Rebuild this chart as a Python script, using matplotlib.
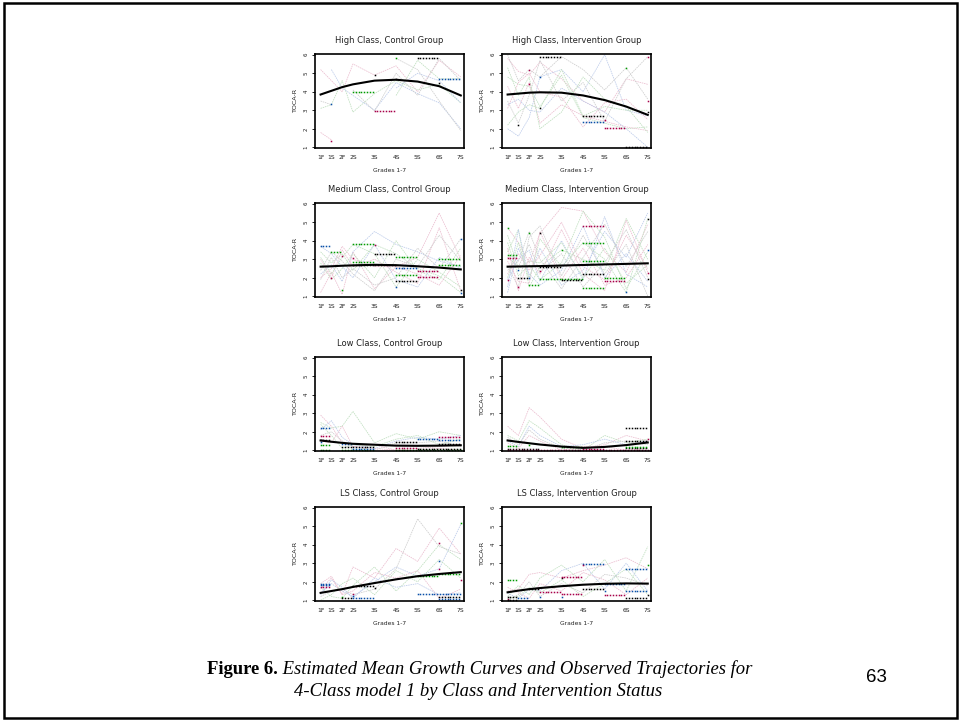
import numpy as np
import matplotlib
matplotlib.use("Agg")
import matplotlib.pyplot as plt
from matplotlib.patches import Rectangle

# grade labels and their positions on the time axis
GRADES = ["1F", "1S", "2F", "2S", "3S", "4S", "5S", "6S", "7S"]
GRADE_POS = [1.0, 1.5, 2.0, 2.5, 3.5, 4.5, 5.5, 6.5, 7.5]

TITLES = [
    "High Class, Control Group", "High Class, Intervention Group",
    "Medium Class, Control Group", "Medium Class, Intervention Group",
    "Low Class, Control Group", "Low Class, Intervention Group",
    "LS Class, Control Group", "LS Class, Intervention Group",
]

# estimated mean growth curves
HC_MEAN = [3.85, 4.05, 4.25, 4.4, 4.6, 4.65, 4.55, 4.3, 3.8]
HI_MEAN = [3.85, 3.9, 3.95, 3.97, 3.95, 3.8, 3.55, 3.2, 2.75]
MC_MEAN = [2.6, 2.62, 2.65, 2.67, 2.7, 2.68, 2.62, 2.55, 2.45]
MI_MEAN = [2.6, 2.61, 2.62, 2.63, 2.66, 2.69, 2.72, 2.75, 2.78]
LC_MEAN = [1.53, 1.46, 1.4, 1.35, 1.3, 1.25, 1.24, 1.25, 1.27]
LI_MEAN = [1.53, 1.45, 1.38, 1.31, 1.2, 1.13, 1.18, 1.28, 1.42]
SC_MEAN = [1.4, 1.5, 1.6, 1.72, 1.93, 2.13, 2.3, 2.42, 2.52]
SI_MEAN = [1.43, 1.52, 1.6, 1.66, 1.76, 1.84, 1.89, 1.91, 1.9]

# observed trajectories (None = not observed)
HC_TRAJ = [
    [5.2, 4.6, 4.0, 5.5, 4.9, 5.4, 4.0, 5.7, 4.8],
    [3.1, 3.3, 4.6, 2.9, 3.9, 4.6, 4.1, 4.4, 3.4],
    [None, 5.2, 4.2, 3.8, 3.0, 4.5, 3.9, 3.4, 2.0],
    [None, None, None, None, None, 5.8, 5.2, 3.5, 1.9],
    [1.8, 1.4, None, None, None, None, None, None, None],
    [None, None, None, None, None, 3.8, 5.7, 4.7, 4.7],
    [None, None, None, None, None, 4.2, 5.0, 4.6, 3.4],
    [3.5, 3.3, None, 4.1, 2.95, 5.0, 3.8, 5.8, 4.6],
]
HI_TRAJ = [
    [5.8, 5.1, 4.9, 5.6, 4.7, 3.5, 2.9, 4.7, 4.4],
    [4.8, 4.4, 4.3, 3.2, 4.9, 2.6, 2.3, 2.0, 2.1],
    [2.0, 1.6, 2.6, 4.8, 5.2, 4.0, 6.0, 3.0, 2.7],
    [3.5, 2.3, 3.8, 5.7, 3.5, 4.5, 2.4, 4.7, 5.9],
    [4.3, 3.1, 4.5, 2.3, 3.3, 2.7, 2.4, 2.1, 1.9],
    [2.2, 2.9, 3.3, 3.1, 5.2, 2.7, 3.2, 3.0, 3.0],
    [3.3, 3.6, 3.0, 2.9, 4.2, 3.5, 2.9, 2.0, 1.0],
    [6.0, 4.6, 5.2, 4.8, 5.9, 5.2, 4.1, 5.3, 3.6],
    [3.1, 4.5, 5.0, 4.0, 3.7, 2.1, 3.4, 3.6, 2.5],
    [5.3, 3.8, 4.8, 2.0, 2.9, 4.8, 3.6, 3.2, 1.8],
]
MC_TRAJ = [
    [1.2, 2.3, 1.1, 3.4, 1.4, 2.6, 3.1, 5.5, 3.0],
    [3.4, 2.8, 3.3, 2.4, 3.8, 3.3, 2.5, 2.1, 1.2],
    [2.2, 2.7, 1.8, 3.4, 4.5, 3.8, 3.4, 2.9, 2.6],
    [1.9, 3.1, 2.0, 2.5, 1.6, 2.0, 3.6, 2.5, 4.1],
    [3.0, 2.0, 3.5, 2.6, 3.0, 2.3, 1.7, 4.7, 1.3],
    [2.8, 1.9, 2.5, 3.3, 2.0, 4.0, 2.4, 1.9, 3.6],
    [3.7, 3.3, 2.6, 2.0, 3.8, 1.9, 1.5, 3.1, 2.5],
    [2.4, 3.4, 2.9, 2.2, 1.3, 3.0, 2.6, 4.3, 2.9],
    [2.0, 2.5, 3.7, 3.0, 2.6, 2.6, 2.2, 1.6, 3.2],
    [3.1, 2.2, 3.1, 3.8, 3.3, 1.5, 3.0, 2.3, 1.5],
]
MI_TRAJ = [
    [4.7, 3.9, 2.8, 4.4, 5.8, 5.6, 3.4, 2.3, 4.9],
    [3.4, 4.6, 1.5, 2.6, 3.5, 3.0, 2.4, 5.2, 3.0],
    [1.9, 3.0, 3.5, 1.8, 4.0, 1.9, 5.3, 2.2, 1.5],
    [2.6, 1.5, 4.2, 4.8, 2.1, 4.3, 2.2, 3.8, 1.0],
    [2.2, 3.3, 2.4, 3.2, 5.0, 2.6, 1.9, 4.3, 2.5],
    [3.9, 2.1, 2.7, 1.9, 2.8, 5.6, 4.2, 1.4, 3.4],
    [1.5, 4.6, 2.0, 3.6, 1.6, 2.4, 4.5, 3.1, 5.5],
    [3.1, 2.6, 3.8, 2.3, 3.3, 1.5, 2.8, 4.6, 2.0],
    [2.9, 1.8, 1.7, 4.5, 1.9, 3.6, 1.6, 2.0, 3.8],
    [4.3, 2.5, 2.9, 2.8, 3.9, 2.0, 3.6, 1.7, 2.7],
    [1.2, 3.6, 2.2, 1.6, 2.4, 4.8, 2.0, 3.3, 1.8],
    [2.4, 2.9, 4.5, 3.0, 1.4, 3.1, 4.9, 2.6, 4.5],
    [3.6, 1.3, 3.1, 2.2, 4.6, 2.2, 1.3, 5.1, 2.3],
    [2.0, 3.9, 1.9, 4.1, 2.6, 3.9, 3.0, 1.2, 5.2],
]
LC_TRAJ = [
    [2.9, 2.3, 1.4, 1.2, 1.1, 1.0, 1.1, 1.2, 1.3],
    [2.5, 2.2, 2.3, 3.1, 1.4, 1.9, 1.6, 2.0, 1.8],
    [2.1, 2.6, 1.7, 1.3, 1.1, 1.5, 1.7, 1.6, 1.8],
    [1.8, 2.0, 1.5, 1.2, 1.0, 1.4, 1.4, 1.5, 1.2],
    [1.5, 1.4, 2.3, 1.2, 1.3, 1.0, 1.0, 1.1, 1.0],
    [2.4, 1.8, 1.1, 1.3, 1.2, 1.6, 1.8, 1.3, 1.6],
]
LI_TRAJ = [
    [2.3, 1.8, 3.3, 2.8, 1.6, 1.1, 1.3, 1.8, 1.5],
    [1.8, 1.5, 2.6, 2.2, 1.3, 1.0, 1.8, 1.4, 1.6],
    [1.5, 1.2, 2.3, 1.8, 1.2, 1.3, 1.6, 1.3, 1.5],
    [1.7, 1.3, 2.1, 1.6, 1.1, 1.0, 1.4, 1.5, 1.3],
    [1.4, 1.1, 1.8, 1.5, 1.0, 1.2, 1.2, 1.0, 1.1],
]
SC_TRAJ = [
    [1.9, 2.3, 1.3, 2.8, 2.2, 3.8, 3.1, 4.9, 3.5],
    [1.7, 1.2, 1.1, 1.8, 2.8, 1.5, 2.6, 4.0, 3.2],
    [1.4, 1.9, 1.5, 1.2, 2.0, 2.8, 2.3, 2.7, 5.1],
    [1.2, 1.5, 1.6, 1.3, 1.6, 2.7, 5.4, 3.9, 3.5],
    [1.6, 2.2, 1.3, 1.5, 2.5, 2.2, 2.6, 1.1, 1.6],
    [1.0, 1.3, 1.9, 2.2, 1.3, 2.6, 2.0, 3.2, 2.2],
    [1.3, 2.1, 1.7, 1.1, 2.2, 1.7, 1.9, 1.3, 1.4],
]
SI_TRAJ = [
    [1.5, 1.6, 2.4, 2.5, 2.2, 2.6, 2.9, 3.3, 2.7],
    [1.2, 1.8, 1.3, 2.2, 2.9, 2.0, 3.2, 1.5, 3.9],
    [1.4, 1.1, 1.6, 1.5, 2.6, 3.0, 1.6, 3.0, 1.5],
    [1.0, 1.3, 2.0, 1.2, 1.9, 1.4, 2.4, 2.2, 1.8],
    [1.7, 1.4, 1.1, 1.9, 1.5, 2.5, 2.1, 1.3, 2.2],
    [1.1, 1.2, 1.7, 1.4, 2.1, 1.2, 1.9, 2.7, 1.3],
]

# individuals with constant observed scores: (from, to, score, series)
HC_FLAT = [("5S", "6S", 5.8, "k"), ("6S", "7S", 4.7, "b"), ("2S", "3S", 3.97, "g"),
           ("3S", "4S", 2.95, "m"), ("3S", "3S", 4.9, "k"), ("4S", "4S", 4.7, "k"),
           ("1S", "1S", 3.35, "b"), ("1S", "1S", 1.35, "m"), ("4S", "4S", 5.85, "g"),
           ("6S", "6S", 4.45, "k")]
HI_FLAT = [("2S", "3S", 5.9, "k"), ("2S", "2S", 4.8, "b"), ("2F", "2F", 4.4, "m"),
           ("2F", "2F", 5.15, "m"), ("4S", "5S", 2.7, "k"), ("4S", "5S", 2.35, "b"),
           ("5S", "6S", 2.05, "m"), ("6S", "7S", 1.0, "k"), ("6S", "6S", 5.3, "g"),
           ("7S", "7S", 5.9, "m"), ("7S", "7S", 2.9, "k"), ("7S", "7S", 3.5, "m"),
           ("1S", "1S", 2.2, "k"), ("2S", "2S", 3.1, "k"), ("5S", "5S", 2.45, "m")]
MC_FLAT = [("1F", "1S", 3.7, "b"), ("1S", "1S", 2.0, "m"), ("1S", "2F", 3.4, "g"),
           ("2F", "2F", 1.35, "g"), ("2F", "2F", 3.2, "m"), ("2S", "2S", 3.05, "m"),
           ("2S", "3S", 3.8, "g"), ("2S", "3S", 2.85, "g"), ("2S", "4S", 2.7, "k"),
           ("3S", "3S", 3.75, "m"), ("3S", "4S", 3.3, "k"), ("4S", "5S", 2.55, "b"),
           ("4S", "5S", 3.1, "g"), ("4S", "5S", 2.15, "g"), ("4S", "5S", 1.85, "k"),
           ("4S", "4S", 1.5, "b"), ("5S", "6S", 2.35, "m"), ("5S", "6S", 2.05, "m"),
           ("6S", "7S", 2.7, "g"), ("6S", "7S", 3.0, "g"), ("7S", "7S", 4.1, "b"),
           ("7S", "7S", 1.35, "k"), ("7S", "7S", 1.2, "b")]
MI_FLAT = [("1F", "1F", 4.7, "g"), ("1F", "1S", 3.25, "g"), ("1F", "1S", 3.05, "m"),
           ("1F", "1F", 1.9, "m"), ("1S", "1S", 2.4, "b"), ("1S", "1S", 1.5, "m"),
           ("1S", "2F", 2.0, "k"), ("2F", "2F", 2.0, "b"), ("2F", "2F", 4.4, "g"),
           ("2F", "2S", 1.6, "g"), ("2S", "2S", 2.35, "m"), ("2S", "2S", 4.4, "k"),
           ("2S", "3S", 2.6, "k"), ("2S", "4S", 1.95, "g"), ("3S", "3S", 3.5, "g"),
           ("3S", "4S", 1.9, "k"), ("4S", "5S", 4.8, "m"), ("4S", "5S", 3.9, "g"),
           ("4S", "5S", 2.9, "g"), ("4S", "5S", 2.2, "k"), ("4S", "5S", 1.45, "g"),
           ("5S", "6S", 1.8, "m"), ("5S", "6S", 2.0, "g"), ("6S", "6S", 1.25, "b"),
           ("7S", "7S", 5.2, "k"), ("7S", "7S", 3.5, "b"), ("7S", "7S", 1.95, "k"),
           ("7S", "7S", 2.25, "m")]
LC_FLAT = [("1F", "1S", 2.2, "b"), ("1F", "1S", 1.75, "m"), ("1F", "1S", 1.55, "k"),
           ("1F", "1S", 1.3, "g"), ("1F", "1F", 1.45, "b"), ("1F", "1S", 1.0, "g"),
           ("2F", "2S", 1.35, "b"), ("2F", "3S", 1.15, "k"), ("2F", "3S", 1.0, "g"),
           ("2S", "3S", 1.05, "b"), ("4S", "5S", 1.45, "k"), ("5S", "6S", 1.6, "b"),
           ("6S", "7S", 1.7, "m"), ("6S", "7S", 1.55, "b"), ("6S", "7S", 1.35, "k"),
           ("4S", "5S", 1.1, "m"), ("4S", "7S", 1.02, "g"), ("5S", "7S", 1.08, "k")]
LI_FLAT = [("6S", "7S", 2.2, "k"), ("6S", "7S", 1.5, "k"), ("2F", "2F", 1.3, "g"),
           ("1F", "2S", 1.05, "k"), ("1F", "7S", 1.0, "m"), ("3S", "4S", 1.2, "g"),
           ("6S", "7S", 1.1, "k"), ("6S", "7S", 1.2, "g"), ("7S", "7S", 1.6, "m"),
           ("4S", "5S", 1.05, "m"), ("1F", "1S", 1.25, "g")]
SC_FLAT = [("1F", "1S", 1.9, "b"), ("1F", "1S", 1.8, "b"), ("1F", "1S", 1.7, "m"),
           ("2F", "2F", 1.2, "g"), ("2F", "2S", 1.1, "k"), ("2S", "3S", 1.1, "b"),
           ("2S", "2S", 1.35, "m"), ("2S", "2S", 1.25, "b"), ("2S", "3S", 1.75, "k"),
           ("3S", "3S", 1.65, "k"), ("5S", "6S", 2.3, "g"), ("6S", "7S", 2.4, "g"),
           ("6S", "6S", 4.1, "m"), ("6S", "6S", 3.1, "b"), ("6S", "6S", 2.7, "m"),
           ("5S", "7S", 1.35, "b"), ("6S", "7S", 1.2, "k"), ("6S", "7S", 1.05, "b"),
           ("7S", "7S", 5.2, "g"), ("7S", "7S", 2.1, "m")]
SI_FLAT = [("1F", "1S", 2.1, "g"), ("1F", "1S", 1.2, "k"), ("1F", "1F", 1.05, "m"),
           ("1F", "1S", 1.0, "k"), ("1S", "2F", 1.1, "b"), ("2F", "2S", 1.6, "k"),
           ("2S", "2S", 1.2, "b"), ("2S", "3S", 1.45, "m"), ("3S", "3S", 2.2, "k"),
           ("3S", "4S", 2.25, "m"), ("3S", "4S", 1.35, "m"), ("3S", "3S", 1.15, "b"),
           ("4S", "5S", 2.95, "b"), ("4S", "4S", 2.9, "m"), ("4S", "5S", 1.6, "k"),
           ("5S", "5S", 1.5, "b"), ("5S", "6S", 1.3, "m"), ("6S", "7S", 2.7, "b"),
           ("6S", "7S", 1.5, "b"), ("6S", "7S", 1.1, "k"), ("7S", "7S", 2.9, "g"),
           ("7S", "7S", 1.3, "k"), ("5S", "6S", 1.9, "b")]

PANELS = [
    (HC_MEAN, HC_TRAJ, HC_FLAT), (HI_MEAN, HI_TRAJ, HI_FLAT),
    (MC_MEAN, MC_TRAJ, MC_FLAT), (MI_MEAN, MI_TRAJ, MI_FLAT),
    (LC_MEAN, LC_TRAJ, LC_FLAT), (LI_MEAN, LI_TRAJ, LI_FLAT),
    (SC_MEAN, SC_TRAJ, SC_FLAT), (SI_MEAN, SI_TRAJ, SI_FLAT),
]

pale = ["#ebbdcf", "#bfdfbf", "#bccbea", "#cdcdcd"]
dark = {"k": "#000000", "g": "#009a00", "b": "#0a4fa8", "m": "#a8004a"}
pos_of = dict(zip(GRADES, GRADE_POS))

fig = plt.figure(figsize=(9.6, 7.21), dpi=100)
W, H = 960.0, 721.0

col_left = [315, 502]
ax_w = 149
row_top = [54, 203, 357, 507]
ax_h = 94

for i, (mean, traj, flat) in enumerate(PANELS):
    r, c = divmod(i, 2)
    x0 = col_left[c] / W
    y0 = 1 - (row_top[r] + ax_h) / H
    ax = fig.add_axes([x0, y0, ax_w / W, ax_h / H])

    for j, t in enumerate(traj):
        y = np.array([np.nan if v is None else v for v in t], dtype=float)
        ax.plot(GRADE_POS, y, color=pale[j % len(pale)], lw=0.55, ls=(0, (2, 1)), zorder=1)

    for a, b, lev, s in flat:
        xa, xb = pos_of[a], pos_of[b]
        xs = np.arange(xa, xb + 0.01, 0.13) if xb > xa else np.array([xa])
        ax.plot(xs, np.full(len(xs), lev), ls="none", marker="s", ms=1.1,
                mew=0, color=dark[s], zorder=2)

    ax.plot(GRADE_POS, mean, color="black", lw=1.5, zorder=3)

    ax.set_xlim(0.74, 7.65)
    ax.set_ylim(0.96, 6.04)
    ax.set_xticks(GRADE_POS)
    ax.set_xticklabels(GRADES)
    ax.set_yticks([1, 2, 3, 4, 5, 6])
    ax.tick_params(axis="x", length=0, pad=5, labelsize=4.3, labelcolor="#222222")
    ax.tick_params(axis="y", length=2.5, width=0.6, pad=2, labelsize=4.0,
                   labelcolor="#222222", labelrotation=90)
    for lab in ax.get_yticklabels():
        lab.set_va("center")
    for sp in ax.spines.values():
        sp.set_linewidth(1.2)
    ax.set_title(TITLES[i], fontsize=6.0, pad=8, color="#222222")
    ax.set_xlabel("Grades 1-7", fontsize=4.3, labelpad=6, color="#222222")
    ax.set_ylabel("TOCA-R", fontsize=4.6, labelpad=4, color="#222222")

# page border
fig.patches.append(Rectangle((3.5 / W, 3 / H), 953.5 / W, 715 / H, transform=fig.transFigure,
                             fill=False, lw=1.8, edgecolor="black"))

# caption
renderer = fig.canvas.get_renderer()
cap_bold = fig.text(0, 1 - 674 / H, "Figure 6.", family="Liberation Serif",
                    weight="bold", fontsize=13.4, va="baseline")
cap_rest = fig.text(0, 1 - 674 / H,
                    " Estimated Mean Growth Curves and Observed Trajectories for",
                    family="Liberation Serif", style="italic", fontsize=13.4, va="baseline")
wb = cap_bold.get_window_extent(renderer).width
wr = cap_rest.get_window_extent(renderer).width
start = 480 - (wb + wr) / 2
cap_bold.set_x(start / W)
cap_rest.set_x((start + wb) / W)
fig.text(478 / W, 1 - 696 / H, "4-Class model 1 by Class and Intervention Status",
         family="Liberation Serif", style="italic", fontsize=13.4, ha="center", va="baseline")
fig.text(876 / W, 1 - 677 / H, "63", family="Liberation Sans", fontsize=13.5,
         ha="center", va="center")

fig.savefig("out.png", dpi=100)
